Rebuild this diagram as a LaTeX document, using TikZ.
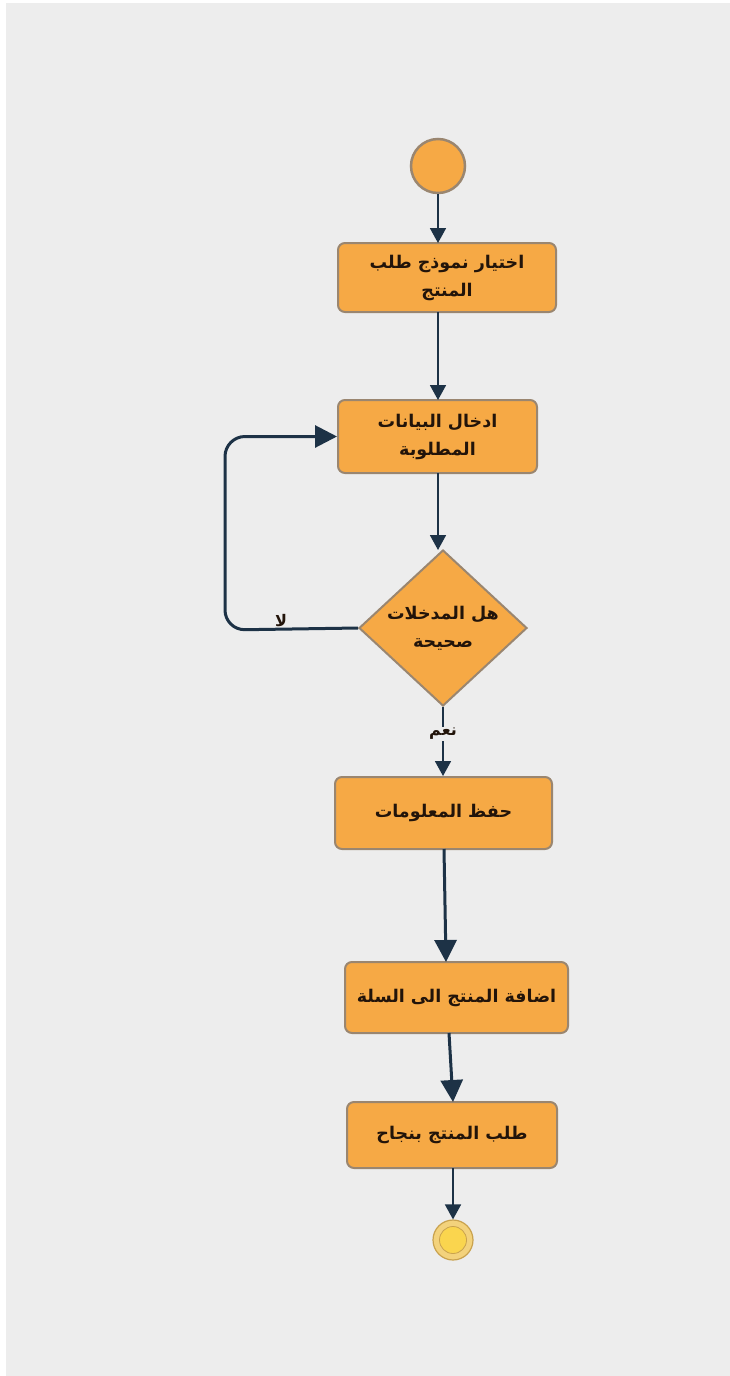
\documentclass[tikz,border=0pt]{standalone}
\usepackage{fontspec}
\TeXXeTstate=1
\newfontfamily\arabicfont[Script=Arabic]{DejaVu Sans}
\usetikzlibrary{shapes.geometric,arrows.meta}
\definecolor{bgray}{HTML}{EDEDED}
\definecolor{boxfill}{HTML}{F6A945}
\definecolor{boxline}{HTML}{9A8670}
\definecolor{navy}{HTML}{1D3246}
\definecolor{txt}{HTML}{22140A}
\definecolor{endring}{HTML}{F3D27C}
\definecolor{endin}{HTML}{FAD54E}
\definecolor{endline}{HTML}{C9A24E}
\tikzset{
  actbox/.style={draw=boxline, fill=boxfill, line width=2pt, rounded corners=7pt,
    align=center, text=txt, font=\arabicfont\bfseries\fontsize{17.5}{28}\selectfont, inner sep=2pt},
  decbox/.style={draw=boxline, fill=boxfill, line width=2pt, shape=diamond, inner sep=0pt,
    align=center, text=txt, font=\arabicfont\bfseries\fontsize{17.5}{28}\selectfont},
  lbl/.style={text=txt, font=\arabicfont\bfseries\fontsize{16}{20}\selectfont, inner sep=1pt},
  thinarrow/.style={draw=navy, line width=1.8pt, -{Triangle[width=16pt,length=15pt]}},
  thickarrow/.style={draw=navy, line width=3pt, -{Triangle[width=22pt,length=22pt]}},
  plainline/.style={draw=navy, line width=1.8pt},
}
\begin{document}
\begin{tikzpicture}[x=1pt,y=-1pt]
\useasboundingbox (0,0) rectangle (730,1376);
\fill[white] (0,0) rectangle (730,1376);
\fill[bgray] (6,3) rectangle (730,1376);

% start node
\node[circle, draw=boxline, fill=boxfill, line width=2.5pt, minimum size=54pt, inner sep=0pt] (start) at (438,166) {};

% activities
\node[actbox, minimum width=218pt, minimum height=69pt] (b1) at (447,277.5)
  {\beginR اختيار نموذج طلب\endR\\\beginR المنتج\endR};
\node[actbox, minimum width=199pt, minimum height=73pt] (b2) at (437.5,436.5)
  {\beginR ادخال البيانات\endR\\\beginR المطلوبة\endR};
\node[decbox, minimum width=168pt, minimum height=156pt] (dec) at (443,628)
  {\beginR هل المدخلات\endR\\\beginR صحيحة\endR};
\node[actbox, minimum width=217pt, minimum height=72pt] (b3) at (443.5,813)
  {\beginR حفظ المعلومات\endR};
\node[actbox, minimum width=223pt, minimum height=71pt] (b4) at (456.5,997.5)
  {\beginR اضافة المنتج الى السلة\endR};
\node[actbox, minimum width=210pt, minimum height=66pt] (b5) at (452,1135)
  {\beginR طلب المنتج بنجاح\endR};

% end node
\node[circle, draw=endline, fill=endring, line width=1.2pt, minimum size=40pt, inner sep=0pt] (fin) at (453,1240) {};
\node[circle, draw=endline, fill=endin, line width=0.8pt, minimum size=27pt, inner sep=0pt] (finin) at (453,1240) {};

% labels
\node[lbl] (yes) at (443,734) {\beginR نعم\endR};
\node[lbl] (no) at (281,621) {\beginR لا\endR};

% helper coordinates
\coordinate (c1t) at (438,243);
\coordinate (c1b) at (438,312);
\coordinate (c2t) at (438,400);
\coordinate (c2b) at (438,473);
\coordinate (cdt) at (438,550);
\coordinate (c3s) at (444,849);
\coordinate (c4t) at (446,962);
\coordinate (c4s) at (449,1033);
\coordinate (c5t) at (453,1102);
\coordinate (c5s) at (453,1168);
\coordinate (lpB) at (225,630);
\coordinate (lpT) at (225,436.5);

% connectors
\draw[thinarrow] (start.south) -- (c1t);
\draw[thinarrow] (c1b) -- (c2t);
\draw[thinarrow] (c2b) -- (cdt);
\draw[plainline] (dec.south) -- (yes.north);
\draw[thinarrow] (yes.south) -- (b3.north -| yes.south);
\draw[line width=3pt, draw=navy, rounded corners=20pt, -{Triangle[width=22pt,length=22pt]}]
  (dec.west) -- (lpB) -- (lpT) -- (b2.west);
\draw[thickarrow] (c3s) -- (c4t);
\draw[thickarrow] (c4s) -- (c5t);
\draw[thinarrow] (c5s) -- (fin.north);
\end{tikzpicture}
\end{document}
